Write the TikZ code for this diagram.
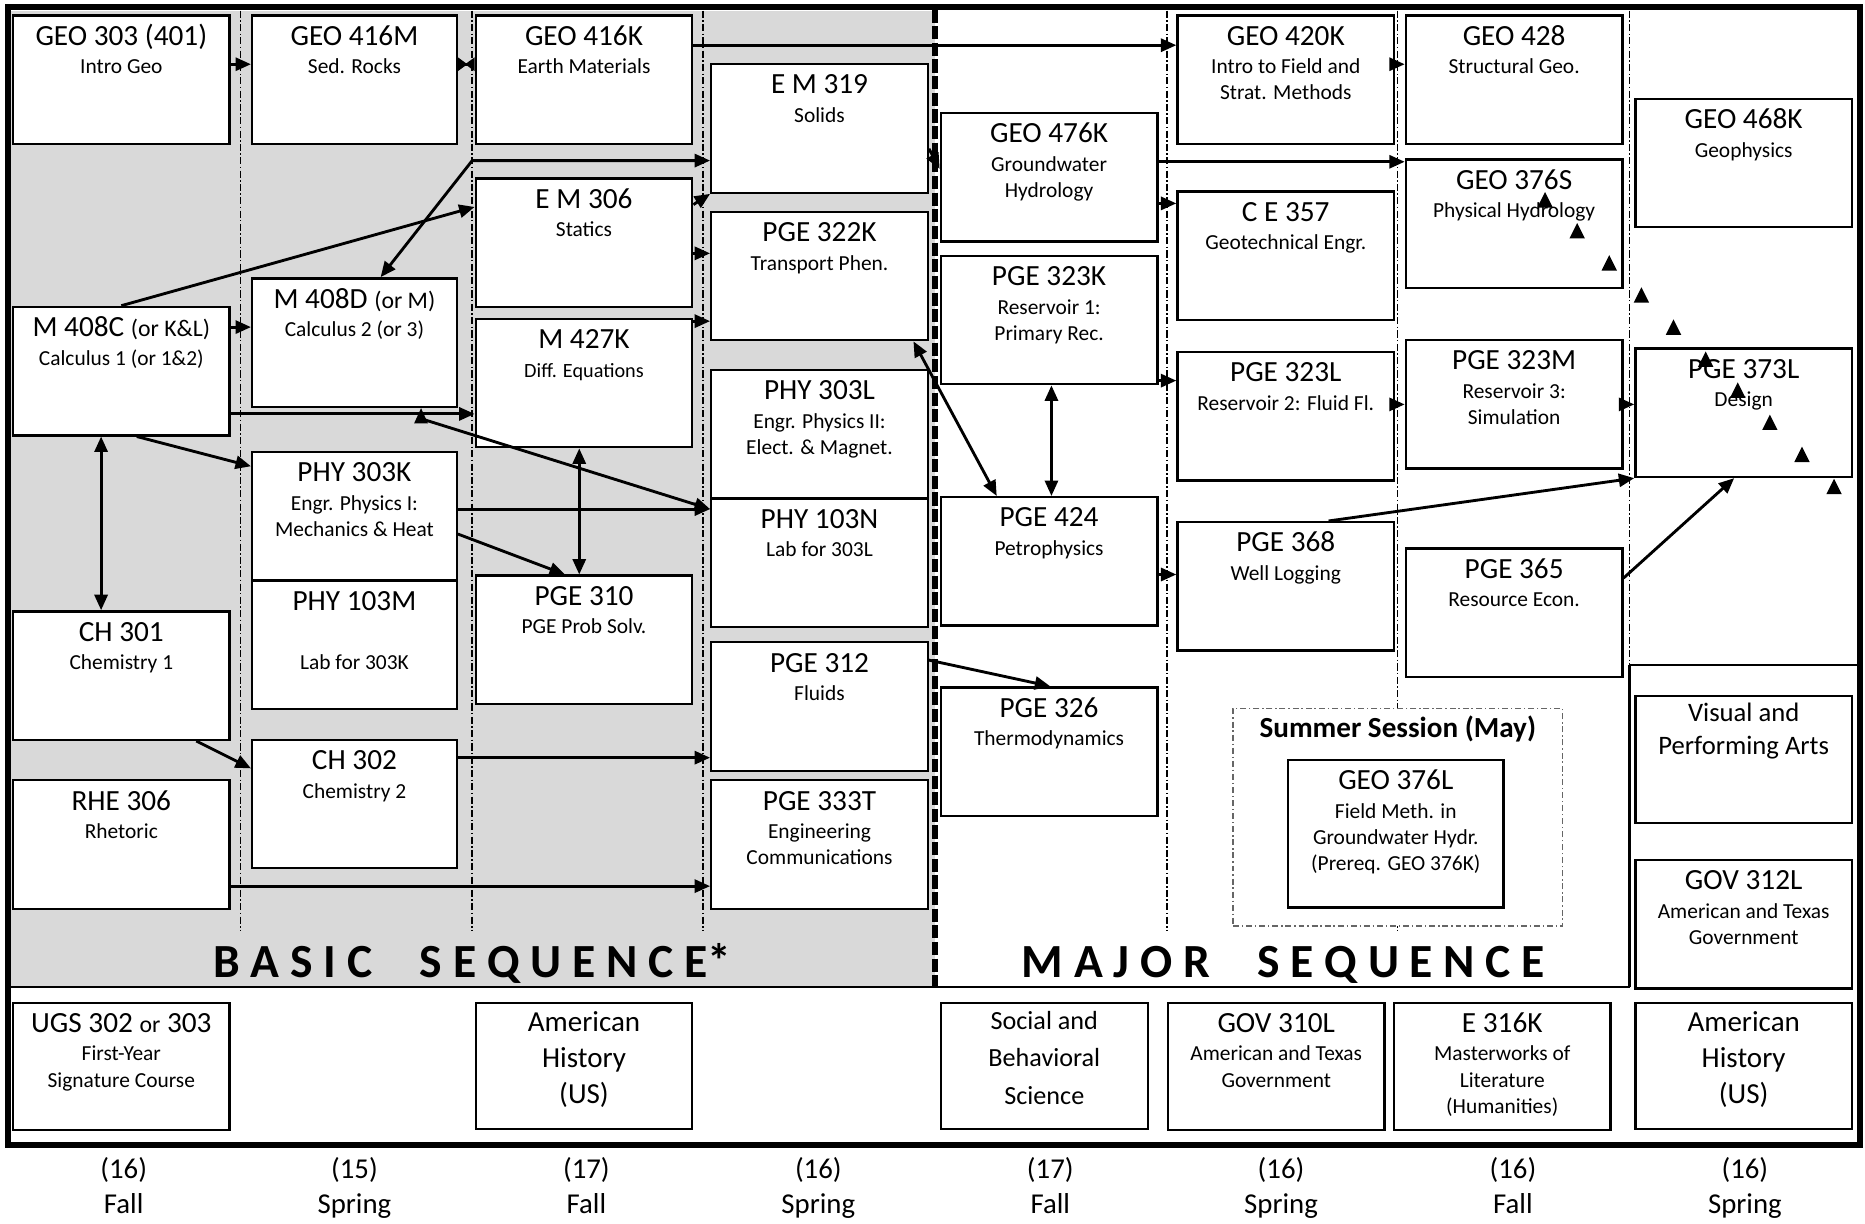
\documentclass[tikz,border=0pt]{standalone}
\usepackage{fontspec}
\setmainfont{Carlito}
\usepackage{tikz}
\usetikzlibrary{arrows.meta}

\newcommand\coursetitle{\fontsize{12.3}{11}\selectfont}
\newcommand\coursesub{\fontsize{9}{11}\selectfont}
\newcommand\coursenote{\fontsize{10}{11}\selectfont}
\newcommand\tipmark[2]{\fill (#1-6.5,#2+6.5) -- (#1+6.5,#2+6.5) -- (#1,#2-6.5) -- cycle;}

\begin{document}
\begin{tikzpicture}[
      x=0.5pt, y=-0.5pt,
      course/.style={draw, line width=1pt, fill=white, anchor=north west,
                     text width=91pt, inner xsep=0pt, inner ysep=0pt,
                     align=flush center, text height=12.5pt, text depth=41.5pt,
                     font=\coursetitle},
      narrow/.style={course, text width=86pt},
      sessionbox/.style={draw=black!60, line width=0.7pt,
                         dash pattern=on 2.5pt off 1.2pt on 0.6pt off 1.2pt,
                         fill=white, anchor=north west, text width=138.5pt,
                         inner sep=0pt, align=flush center, text height=12pt,
                         text depth=79.5pt, font=\fontsize{12.25}{14}\selectfont\bfseries},
      arr/.style={-{Triangle[length=6.5pt,width=5.5pt]}, line width=1.2pt},
      darr/.style={{Triangle[length=6.5pt,width=5.5pt]}-{Triangle[length=6.5pt,width=5.5pt]},
                   line width=1.2pt},
      bowtie/.style={{Triangle[reversed,length=4pt,width=5.5pt]}-{Triangle[reversed,length=4pt,width=5.5pt]},
                     line width=1.2pt},
      termline/.style={line width=0.6pt, dash pattern=on 3pt off 1pt on 0.6pt off 1pt},
      seqlabel/.style={anchor=base, font=\fontsize{20}{24}\selectfont\bfseries},
      semlabel/.style={anchor=base, text width=60pt, align=flush center,
                       font=\fontsize{12.1}{14.5}\selectfont},
    ]
    \useasboundingbox (0,0) rectangle (1568,1029);

    % Basic sequence shading
    \fill[black!15] (9,9) rectangle (786,830);

    % Semester dividers
    \draw[termline] (202,9) -- (202,783);
    \draw[termline] (397,9) -- (397,783);
    \draw[termline] (591,9) -- (591,783);
    \draw[termline] (981,9) -- (981,783);
    \draw[termline] (1175,9) -- (1175,783);
    \draw[termline] (1370,9) -- (1370,559);

    % Semester 1
    \node[course] (geo303) at (10,12)  {GEO 303 (401)\\[1pt]\coursesub Intro Geo};
    \node[course] (m408c)  at (10,257) {M 408C {\coursenote (or K\&L)}\\[1pt]\coursesub Calculus 1 (or 1\&2)};
    \node[course] (ch301)  at (10,513) {CH 301\\[1pt]\coursesub Chemistry 1};
    \node[course] (rhe306) at (10,655) {RHE 306\\[1pt]\coursesub Rhetoric};

    % Semester 2
    \node[narrow] (geo416m) at (211,12)  {GEO 416M\\[1pt]\coursesub Sed. Rocks};
    \node[narrow] (m408d)   at (211,233) {M 408D {\coursenote (or M)}\\[1pt]\coursesub Calculus 2 (or 3)};
    \node[narrow] (phy303k) at (211,379) {PHY 303K\\[1pt]\coursesub Engr. Physics I:\\Mechanics \& Heat};
    \node[narrow] (phy103m) at (211,487) {PHY 103M\\[14pt]\coursesub Lab for 303K};
    \node[narrow] (ch302)   at (211,621) {CH 302\\[1pt]\coursesub Chemistry 2};

    % Semester 3
    \node[course] (geo416k) at (399,12)  {GEO 416K\\[1pt]\coursesub Earth Materials};
    \node[course] (em306)   at (399,149) {E M 306\\[1pt]\coursesub Statics};
    \node[course] (m427k)   at (399,267) {M 427K\\[1pt]\fontsize{8.5}{11}\selectfont Diff. Equations};
    \node[course] (pge310)  at (399,483) {PGE 310\\[1pt]\coursesub PGE Prob Solv.};

    % Semester 4
    \node[course] (em319)   at (597,53)  {E M 319\\[1pt]\coursesub Solids};
    \node[course] (pge322k) at (597,177) {PGE 322K\\[1pt]\coursesub Transport Phen.};
    \node[course] (phy303l) at (597,310) {PHY 303L\\[1pt]\coursesub Engr. Physics II:\\Elect. \& Magnet.};
    \node[course] (phy103n) at (597,418) {PHY 103N\\[1pt]\coursesub Lab for 303L};
    \node[course] (pge312)  at (597,539) {PGE 312\\[1pt]\coursesub Fluids};
    \node[course] (pge333t) at (597,655) {PGE 333T\\[1pt]\coursesub Engineering\\Communications};

    % Semester 5
    \node[course] (geo476k) at (790,94)  {GEO 476K\\[1pt]\coursesub Groundwater\\Hydrology};
    \node[course] (pge323k) at (790,214) {PGE 323K\\[1pt]\coursesub Reservoir 1:\\Primary Rec.};
    \node[course] (pge424)  at (790,417) {PGE 424\\[1pt]\coursesub Petrophysics};
    \node[course] (pge326)  at (790,577) {PGE 326\\[1pt]\coursesub Thermodynamics};

    % Semester 6
    \node[course] (geo420k) at (989,12)  {GEO 420K\\[1pt]\coursesub Intro to Field and\\Strat. Methods};
    \node[course] (ce357)   at (989,160) {C E 357\\[1pt]\coursesub Geotechnical Engr.};
    \node[course] (pge323l) at (989,295) {PGE 323L\\[1pt]\coursesub Reservoir 2: Fluid Fl.};
    \node[course] (pge368)  at (989,438) {PGE 368\\[1pt]\coursesub Well Logging};

    % Summer session
    \node[sessionbox] (summer) at (1036,595) {Summer Session (May)};
    \node[course, text width=90.5pt, text depth=49.5pt] (geo376l) at (1082,638)
      {GEO 376L\\[1pt]\coursesub Field Meth. in\\Groundwater Hydr.\\(Prereq. GEO 376K)};

    % Semester 7
    \node[course] (geo428)  at (1181,12)  {GEO 428\\[1pt]\coursesub Structural Geo.};
    \node[course] (geo376s) at (1181,133) {GEO 376S\\[1pt]\coursesub Physical Hydrology};
    \node[course] (pge323m) at (1181,285) {PGE 323M\\[1pt]\coursesub Reservoir 3:\\Simulation};
    \node[course] (pge365)  at (1181,460) {PGE 365\\[1pt]\coursesub Resource Econ.};

    % Semester 8
    \node[course] (geo468k) at (1374,82)  {GEO 468K\\[1pt]\coursesub Geophysics};
    \node[course] (pge373l) at (1374,292) {PGE 373L\\[1pt]\coursesub Design};
    \node[course, text height=11pt, text depth=42.5pt,
          font=\fontsize{11.2}{13.5}\selectfont] (vapa) at (1374,584)
      {Visual and\\Performing Arts};
    \node[course] (gov312l) at (1374,722) {GOV 312L\\[1pt]\coursesub American and Texas\\Government};

    % Core curriculum row
    \node[course, text depth=41pt] (ugs302) at (10,842)
      {UGS 302 {\coursenote or} 303\\[1pt]\coursesub First-Year\\Signature Course};
    \node[course, text height=12pt, text depth=41pt,
          font=\fontsize{12.2}{15.25}\selectfont] (amhist) at (399,842)
      {American\\History\\(US)};
    \node[course, text width=87pt, text height=11.25pt, text depth=41.75pt,
          font=\fontsize{11}{15.75}\selectfont] (socsci) at (790,842)
      {Social and\\Behavioral\\Science};
    \node[course, text depth=41pt] (gov310l) at (981,842)
      {GOV 310L\\[1pt]\coursesub American and Texas\\Government};
    \node[course, text depth=41pt] (e316k) at (1171,842)
      {E 316K\\[1pt]\coursesub Masterworks of\\Literature\\(Humanities)};
    \node[course, text height=12pt, text depth=41pt,
          font=\fontsize{12.2}{15.25}\selectfont] (amhistb) at (1374,842)
      {American\\History\\(US)};

    % Prerequisite arrows
    \draw[arr]    (geo303.east |- 0,54) -- (geo416m.west |- 0,54);
    \draw[bowtie] (geo416m.east |- 0,54) -- (geo416k.west |- 0,54);
    \draw[arr]    (geo416k.east |- 0,38) -- (geo420k.west |- 0,38);
    \draw[darr]   (m408d.north -| 320,0) -- (397,135) -- (em319.west |- 0,135);
    \draw[arr]    (m408c.north) -- (em306.west |- 0,174);
    \draw[arr]    (m408c.east |- 0,275) -- (m408d.west |- 0,275);
    \draw[arr]    (m408c.east |- 0,348) -- (m427k.west |- 0,348);
    \draw[darr]   (m408c.south -| 85,0) -- (ch301.north -| 85,0);
    \draw[arr]    (m408c.south -| 115,0) -- (phy303k.west |- 0,392);
    \draw[darr]   (m408d.south -| 354,0) -- (354,352) -- (phy103n.west |- 0,428);
    \draw[arr]    (phy303k.east |- 0,428) -- (phy103n.west |- 0,428);
    \draw[arr]    (phy303k.east |- 0,449) -- (pge310.north -| 475,0);
    \draw[darr]   (m427k.south -| 487,0) -- (pge310.north -| 487,0);
    \draw[arr]    (em306.east |- 0,172) -- (em319.south west);
    \draw[arr]    (em306.east |- 0,213) -- (pge322k.west |- 0,213);
    \draw[arr]    (m427k.east |- 0,270) -- (pge322k.west |- 0,270);
    \draw[arr]    (ch301.south -| 165,0) -- (ch302.west |- 0,646);
    \draw[arr]    (ch302.east |- 0,637) -- (pge312.west |- 0,637);
    \draw[arr]    (rhe306.east |- 0,745) -- (pge333t.west |- 0,745);
    \draw[arr]    (em319.east |- 0,125) -- (geo476k.west |- 0,142);
    \draw[darr]   (pge322k.south -| 768,0) -- (pge424.north -| 838,0);
    \draw[darr]   (pge323k.south -| 884,0) -- (pge424.north -| 884,0);
    \draw[arr]    (pge312.east |- 0,555) -- (pge326.north -| 883,0);
    \draw[arr]    (geo476k.east |- 0,136) -- (geo376s.west |- 0,136);
    \draw[arr]    (geo476k.east |- 0,171) -- (ce357.west |- 0,171);
    \draw[arr]    (pge323k.east |- 0,320) -- (pge323l.west |- 0,320);
    \draw[arr]    (pge424.east |- 0,483) -- (pge368.west |- 0,483);
    \draw[arr]    (geo420k.east |- 0,54) -- (geo428.west |- 0,54);
    \draw[arr]    (pge323l.east |- 0,340) -- (pge323m.west |- 0,340);
    \draw[arr]    (pge323m.east |- 0,340) -- (pge373l.west |- 0,340);
    \draw[arr]    (pge368.north -| 1117,0) -- (pge373l.south west);
    \draw[arr]    (pge365.east |- 0,486) -- (pge373l.south -| 1458,0);

    % Trail of tips from GEO 376S
    \tipmark{1299}{168} \tipmark{1326}{194} \tipmark{1353}{221}
    \tipmark{1380}{248} \tipmark{1407}{275} \tipmark{1434}{302}
    \tipmark{1461}{328} \tipmark{1488}{355} \tipmark{1515}{382}
    \tipmark{1542}{409}

    % Frame
    \draw[line width=1pt] (8,830) -- (1370,830);
    \draw[line width=1pt] (1370,559) -- (1370,830);
    \draw[line width=1pt] (1370,559) -- (1564,559);
    \draw[line width=2.2pt, dash pattern=on 5.5pt off 1.5pt] (786,8) -- (786,830);
    \draw[line width=2.5pt] (7,6) rectangle (1564,963);

    % Sequence labels
    \node[seqlabel] (basic) at (397,822) {B A S I C\hspace{1em}S E Q U E N C E*};
    \node[seqlabel] (major) at (1079,822) {M A J O R\hspace{1em}S E Q U E N C E};

    % Semester hours
    \node[semlabel] (sem1) at (104,991)  {(16)\\Fall};
    \node[semlabel] (sem2) at (298,991)  {(15)\\Spring};
    \node[semlabel] (sem3) at (493,991)  {(17)\\Fall};
    \node[semlabel] (sem4) at (688,991)  {(16)\\Spring};
    \node[semlabel] (sem5) at (883,991)  {(17)\\Fall};
    \node[semlabel] (sem6) at (1077,991) {(16)\\Spring};
    \node[semlabel] (sem7) at (1272,991) {(16)\\Fall};
    \node[semlabel] (sem8) at (1467,991) {(16)\\Spring};
  \end{tikzpicture}
\end{document}
